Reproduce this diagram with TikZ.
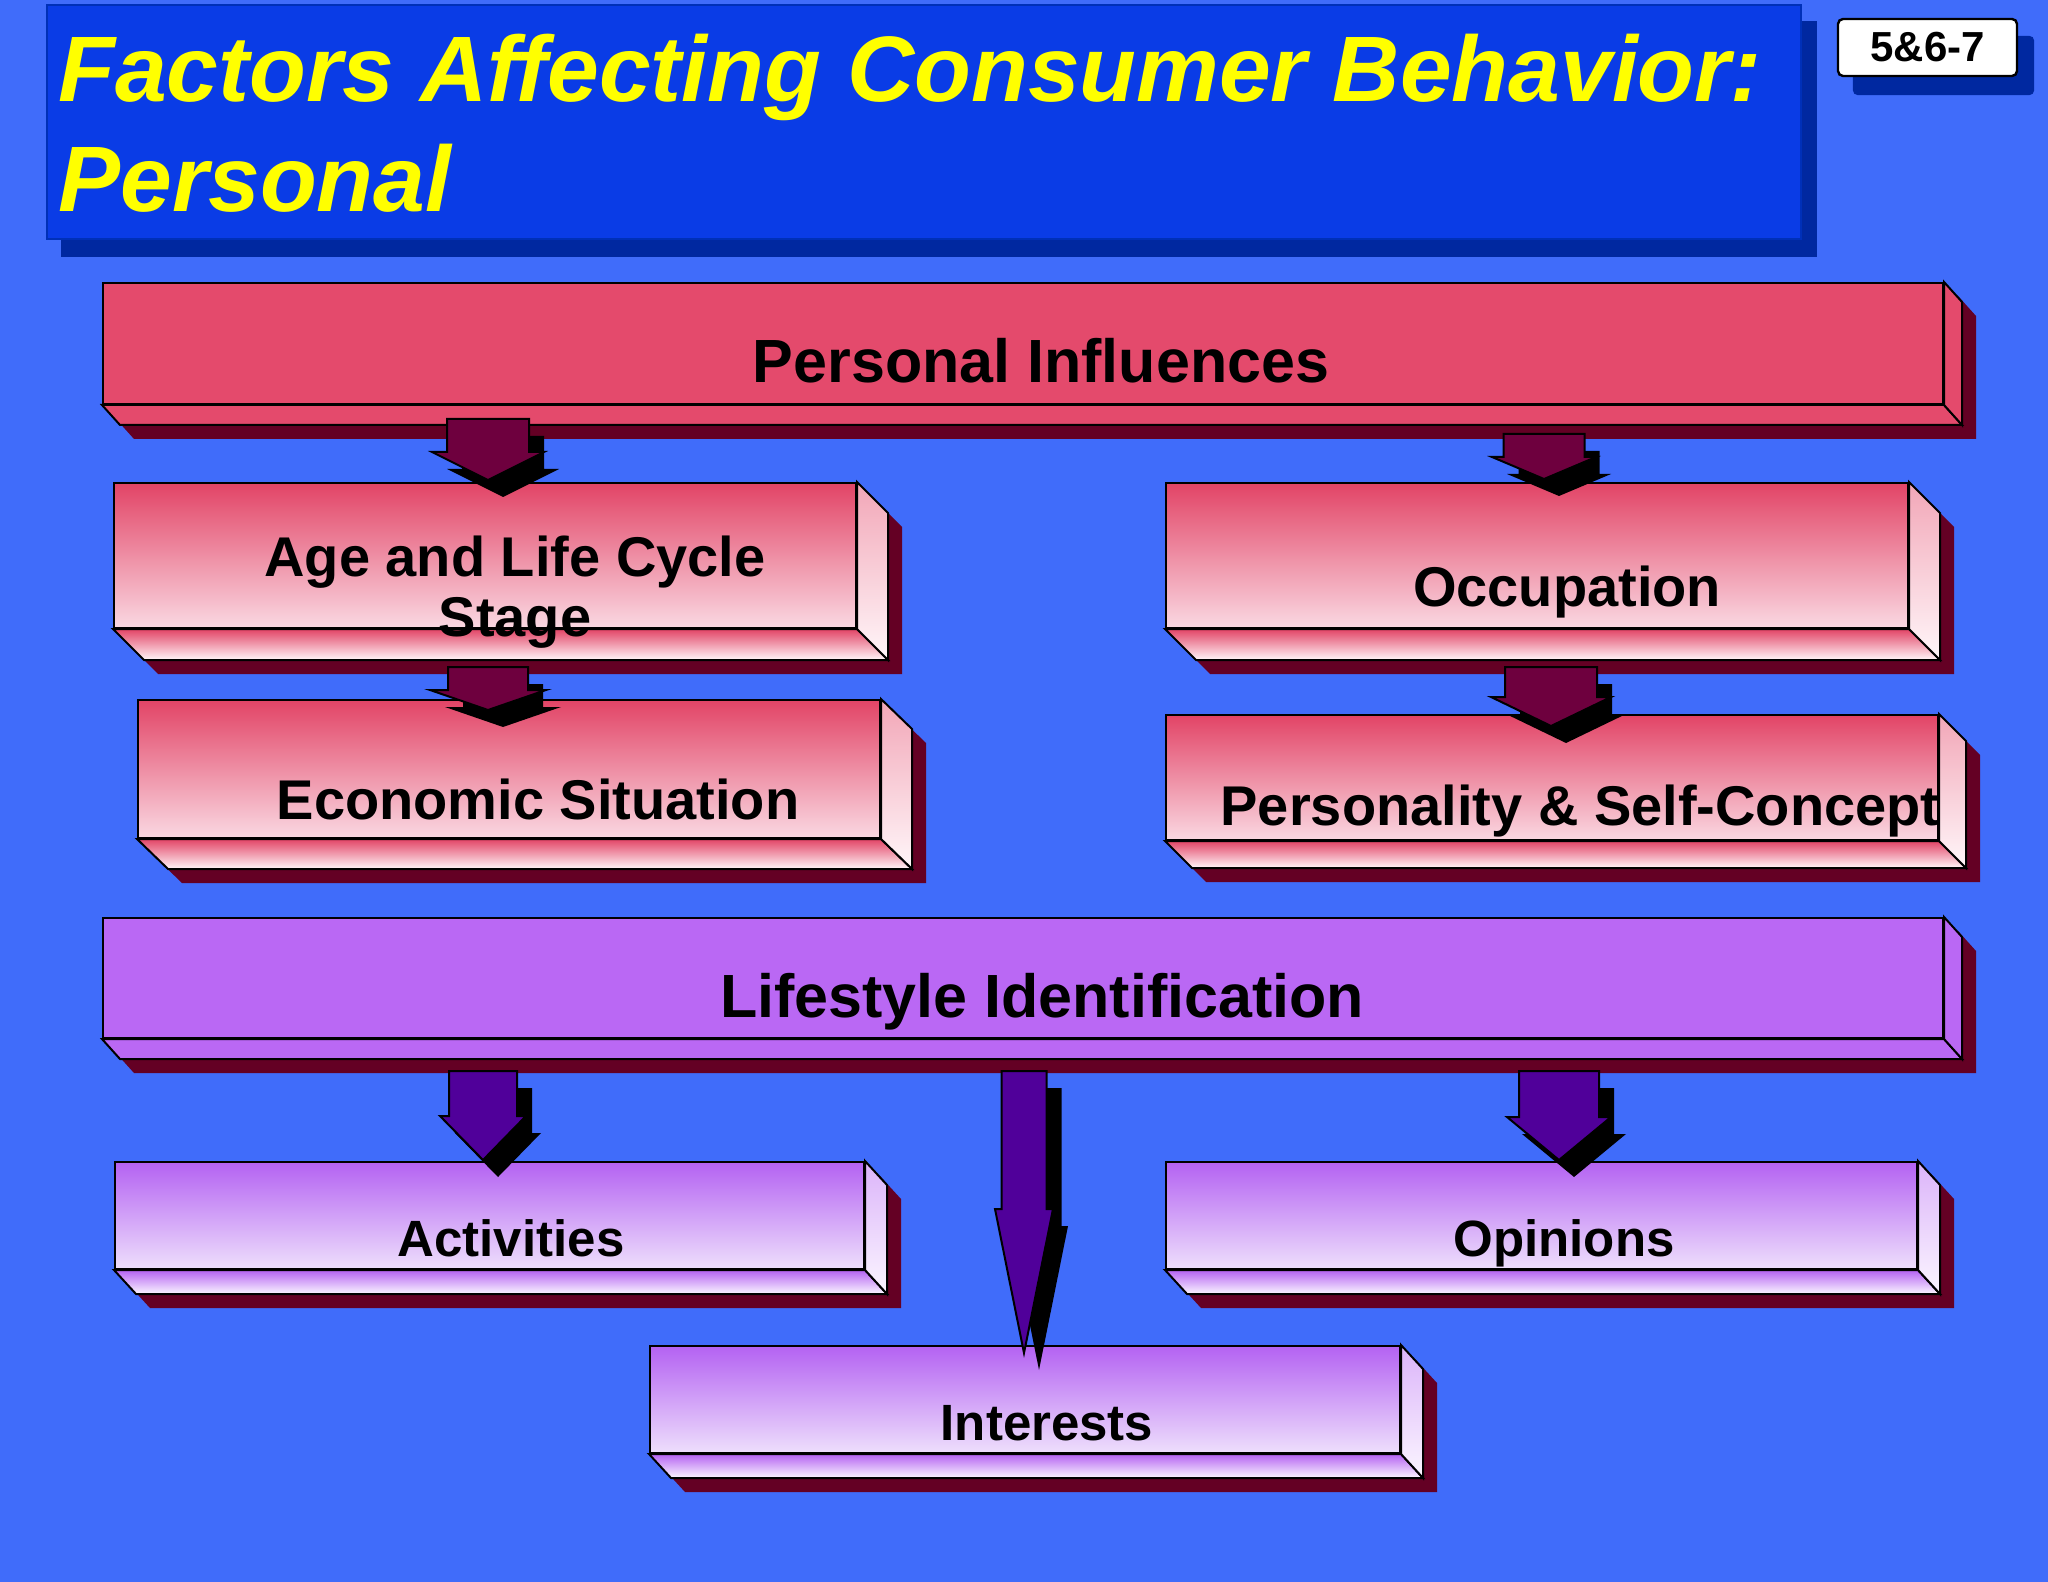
\documentclass[tikz,border=0pt]{standalone}
\usepackage{fontspec}
\setmainfont{Liberation Sans}
\usetikzlibrary{calc}

\definecolor{bgblue}{HTML}{406CFA}
\definecolor{ttlblue}{HTML}{0A3CE6}
\definecolor{ttledge}{HTML}{0030B8}
\definecolor{ttlshade}{HTML}{0028A0}
\definecolor{ttlyellow}{HTML}{FFFF00}
\definecolor{barred}{HTML}{E44A6C}
\definecolor{topred}{HTML}{E24466}
\definecolor{palered}{HTML}{FAD8E2}
\definecolor{whitered}{HTML}{FFF6F9}
\definecolor{slabshade}{HTML}{640024}
\definecolor{arrred}{HTML}{6E003E}
\definecolor{barpurple}{HTML}{BA68F4}
\definecolor{toppurple}{HTML}{B462F2}
\definecolor{palepurple}{HTML}{EEDFFC}
\definecolor{whitepurple}{HTML}{FBF6FF}
\definecolor{arrpurple}{HTML}{50009A}

\pgfdeclarelayer{back}
\pgfsetlayers{back,main}

% block arrow: fill, start, tip, shaft half width, head half width, head length
\newcommand{\blockarrow}[6]{%
  \fill[black,transform canvas={shift={(15,17)}}] (#2) ++(-#4,0) -- ++(2*#4,0) -- ($(#3)+(#4,-#6)$) -- ($(#3)+(#5,-#6)$)
    -- (#3) -- ($(#3)+(-#5,-#6)$) -- ($(#3)+(-#4,-#6)$) -- cycle;
  \filldraw[fill=#1,draw=black,line width=1pt] (#2) ++(-#4,0) -- ++(2*#4,0) -- ($(#3)+(#4,-#6)$) -- ($(#3)+(#5,-#6)$)
    -- (#3) -- ($(#3)+(-#5,-#6)$) -- ($(#3)+(-#4,-#6)$) -- cycle;}

\begin{document}
\begin{tikzpicture}[x=0.5pt,y=-0.5pt,
	edge/.style={draw=black,line width=1pt},
	ttlbox/.style={draw=ttledge,line width=1pt,fill=ttlblue,anchor=north west,inner sep=0pt},
	ttltext/.style={anchor=base west,align=left,inner sep=0pt,text=ttlyellow,
		execute at begin node={\lineskiplimit=-30pt\relax},
		font=\bfseries\itshape\fontsize{46.5pt}{55pt}\selectfont},
	tagbox/.style={draw=black,line width=1.2pt,fill=white,rounded corners=2.5pt,
		minimum width=89.5pt,minimum height=28.5pt,inner sep=0pt,
		font=\bfseries\fontsize{21pt}{24pt}\selectfont},
	redbar/.style={edge,fill=barred,anchor=north west,inner sep=0pt},
	redbox/.style={edge,top color=topred,bottom color=palered,anchor=north west,inner sep=0pt},
	purplebar/.style={edge,fill=barpurple,anchor=north west,inner sep=0pt},
	purplebox/.style={edge,top color=toppurple,bottom color=palepurple,anchor=north west,inner sep=0pt},
	lbl/.style={anchor=base,align=center,inner sep=0pt,
		execute at begin node={\lineskiplimit=-30pt\relax},
		font=\bfseries\fontsize{28pt}{30pt}\selectfont},
	lblbig/.style={lbl,font=\bfseries\fontsize{30.5pt}{34pt}\selectfont},
	lblsmall/.style={lbl,font=\bfseries\fontsize{25.5pt}{30pt}\selectfont}]

	\useasboundingbox (0,0) rectangle (2048,1582);
	\begin{pgfonlayer}{back}
		\fill[bgblue] (0,0) rectangle (2048,1582);
	\end{pgfonlayer}

	% Title (base = last line)
	\node[ttlbox,minimum width=877pt,minimum height=117pt] (ttl) at (46,4) {};
	\node[ttltext] (ttl-t) at (58,212) {Factors Affecting Consumer Behavior:\\Personal};
	\node[tagbox] (tag) at (1927.5,47.5) {5\&6-7};
	\begin{pgfonlayer}{back}
		\fill[ttlshade,transform canvas={shift={(15,17)}}] (ttl.north west) rectangle (ttl.south east);
		\fill[ttlshade,rounded corners=2.5pt,transform canvas={shift={(16,18)}}] (tag.north west) rectangle (tag.south east);
	\end{pgfonlayer}

	% Slabs
	\node[redbar,minimum width=920pt,minimum height=60.5pt] (pers) at (102,282) {};
	\node[redbox,minimum width=371pt,minimum height=72.5pt] (age) at (113,482) {};
	\node[redbox,minimum width=371pt,minimum height=69pt] (econ) at (137,699) {};
	\node[redbox,minimum width=371pt,minimum height=72.5pt] (occ) at (1165,482) {};
	\node[redbox,minimum width=386pt,minimum height=62.5pt] (self) at (1165,714) {};
	\node[purplebar,minimum width=920pt,minimum height=60pt] (life) at (102,917) {};
	\node[purplebox,minimum width=374.5pt,minimum height=53.5pt] (act) at (114,1161) {};
	\node[purplebox,minimum width=375.5pt,minimum height=53.5pt] (opin) at (1165,1161) {};
	\node[purplebox,minimum width=375pt,minimum height=53.5pt] (intr) at (649,1345) {};

	\begin{pgfonlayer}{back}
		\foreach \n/\dx/\dy/\ca/\cb in {pers/18/20/barred/barred, age/31/31/topred/whitered,
			econ/31/30/topred/whitered, occ/31/31/topred/whitered, self/27/27/topred/whitered,
			life/18/20/barpurple/barpurple, act/22/24/toppurple/whitepurple,
			opin/22/24/toppurple/whitepurple, intr/22/24/toppurple/whitepurple}
		{
			\fill[slabshade,transform canvas={shift={(14,14)}}] (\n.north west) -- (\n.north east) -- ++(\dx,\dy)
				-- ($(\n.south east)+(\dx,\dy)$) -- ($(\n.south west)+(\dx,\dy)$) -- (\n.south west) -- cycle;
			\draw[edge,top color=\ca,bottom color=\cb] (\n.south west) -- (\n.south east) -- ++(\dx,\dy)
				-- ($(\n.south west)+(\dx,\dy)$) -- cycle;
			\draw[edge,top color=\cb!55!\ca,bottom color=\cb] (\n.north east) -- ++(\dx,\dy)
				-- ($(\n.south east)+(\dx,\dy)$) -- (\n.south east) -- cycle;
		}
	\end{pgfonlayer}

	\node[lblbig] (pers-l) at (1041,383) {Personal Influences};
	\node[lbl] (age-l) at (515,636) {Age and Life Cycle\\Stage};
	\node[lbl] (occ-l) at (1567,606) {Occupation};
	\node[lbl] (econ-l) at (538,819) {Economic Situation};
	\node[lbl] (self-l) at (1580,825) {Personality \& Self-Concept};
	\node[lblbig] (life-l) at (1042,1017) {Lifestyle Identification};
	\node[lblsmall] (act-l) at (511,1256) {Activities};
	\node[lblsmall] (opin-l) at (1564,1256) {Opinions};
	\node[lblsmall] (intr-l) at (1047,1440) {Interests};

	% Arrows
	\coordinate (a1) at (488,419);
	\coordinate (a2) at (1544,434);
	\coordinate (a3) at (488,667);
	\coordinate (a4) at (1551,667);
	\coordinate (a5) at (483,1071);
	\coordinate (a6) at (1024,1071);
	\coordinate (a7) at (1559,1071);
	\coordinate (a1t) at ($(a1 |- age.north)+(0,-2)$);
	\coordinate (a2t) at ($(a2 |- occ.north)+(0,-3)$);
	\coordinate (a3t) at ($(a3 |- econ.north)+(0,11)$);
	\coordinate (a4t) at ($(a4 |- self.north)+(0,12)$);
	\coordinate (a5t) at ($(a5 |- act.north)+(0,-1)$);
	\coordinate (a6t) at ($(a6 |- intr.north)+(0,8)$);
	\coordinate (a7t) at ($(a7 |- opin.north)+(0,-1)$);

	\foreach \ar/\sw/\hw/\hl/\fc in {a1/41/56/28/arrred, a2/40.5/52/22/arrred, a3/40/58/20/arrred,
		a4/46/60/29/arrred, a5/34/43/44/arrpurple, a6/22.5/29/144/arrpurple, a7/40/52/43/arrpurple}
	{
		\blockarrow{\fc}{\ar}{\ar t}{\sw}{\hw}{\hl}
	}

\end{tikzpicture}
\end{document}
